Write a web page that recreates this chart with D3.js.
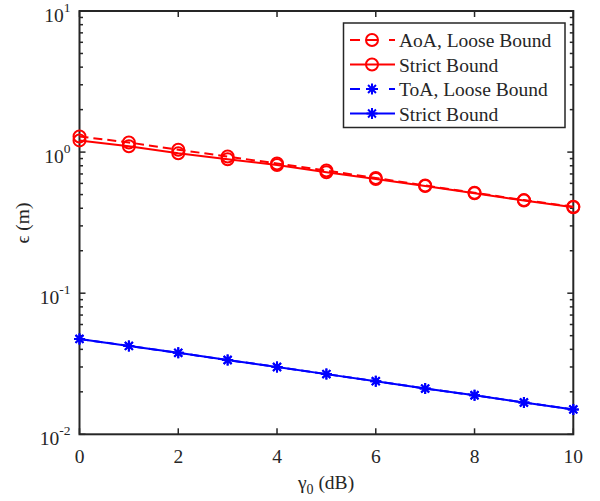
<!DOCTYPE html>
<html>
<head>
<meta charset="utf-8">
<script src="https://cdn.jsdelivr.net/npm/d3@7"></script>
<style>
  html, body { margin: 0; padding: 0; background: #fff; }
  svg { display: block; }
  text { font-family: "Liberation Serif", "Times New Roman", serif; fill: #262626; }
</style>
</head>
<body>
<svg id="chart" width="600" height="501"></svg>
<script>
// SNR values (dB)
const gamma0 = [0, 1, 2, 3, 4, 5, 6, 7, 8, 9, 10];
// Localization error bounds (m)
const aoaLoose  = [1.29, 1.17, 1.04, 0.93, 0.83, 0.74, 0.655, 0.58, 0.515, 0.457, 0.41];
const aoaStrict = [1.21, 1.10, 0.98, 0.89, 0.81, 0.72, 0.645, 0.575, 0.51, 0.454, 0.407];
const toaLoose  = [0.0474, 0.0423, 0.0378, 0.0336, 0.0300, 0.0267, 0.0238, 0.0211, 0.0189, 0.0168, 0.0150];
const toaStrict = [0.0474, 0.0423, 0.0378, 0.0336, 0.0300, 0.0267, 0.0238, 0.0211, 0.0189, 0.0168, 0.0150];
const xTicks = [0, 2, 4, 6, 8, 10];
const yDecades = [-2, -1, 0, 1];
const legendLabels = ["AoA, Loose Bound", "Strict Bound", "ToA, Loose Bound", "Strict Bound"];

const series = [
  { values: aoaLoose,  color: "#ff0000", dash: "9,5", marker: "circle", label: legendLabels[0] },
  { values: aoaStrict, color: "#ff0000", dash: null,  marker: "circle", label: legendLabels[1] },
  { values: toaLoose,  color: "#0000ff", dash: "9,5", marker: "star",   label: legendLabels[2] },
  { values: toaStrict, color: "#0000ff", dash: null,  marker: "star",   label: legendLabels[3] }
];

const svg = d3.select("#chart");
const L = 79.5, R = 573.3, T = 11, B = 434.3;
const axisColor = "#262626";
const fs = 19.5;

const x = d3.scaleLinear().domain([0, 10]).range([L, R]);
const y = d3.scaleLog().domain([0.01, 10]).range([B, T]);

// Axis box
svg.append("rect")
  .attr("x", L).attr("y", T).attr("width", R - L).attr("height", B - T)
  .attr("fill", "none").attr("stroke", axisColor).attr("stroke-width", 2);

// X ticks (bottom and top, inward)
const g = svg.append("g");
xTicks.forEach(v => {
  const px = x(v);
  g.append("line").attr("x1", px).attr("x2", px).attr("y1", B).attr("y2", B - 6)
    .attr("stroke", axisColor).attr("stroke-width", 1.5);
  g.append("line").attr("x1", px).attr("x2", px).attr("y1", T).attr("y2", T + 6)
    .attr("stroke", axisColor).attr("stroke-width", 1.5);
  g.append("text").attr("x", px).attr("y", B + 29)
    .attr("text-anchor", "middle").attr("font-size", fs).text(v);
});

// Y ticks: decades and minor ticks
yDecades.forEach(d => {
  const py = y(Math.pow(10, d));
  g.append("line").attr("x1", L).attr("x2", L + 6).attr("y1", py).attr("y2", py)
    .attr("stroke", axisColor).attr("stroke-width", 1.5);
  g.append("line").attr("x1", R).attr("x2", R - 6).attr("y1", py).attr("y2", py)
    .attr("stroke", axisColor).attr("stroke-width", 1.5);
  const t = g.append("text").attr("x", L - 9).attr("y", py + 11)
    .attr("text-anchor", "end").attr("font-size", fs);
  t.append("tspan").text("10");
  t.append("tspan").attr("dy", -10).attr("font-size", 13.5).text(d);
  if (d < 1) {
    for (let m = 2; m <= 9; m++) {
      const my = y(m * Math.pow(10, d));
      g.append("line").attr("x1", L).attr("x2", L + 3.5).attr("y1", my).attr("y2", my)
        .attr("stroke", axisColor).attr("stroke-width", 1.5);
      g.append("line").attr("x1", R).attr("x2", R - 3.5).attr("y1", my).attr("y2", my)
        .attr("stroke", axisColor).attr("stroke-width", 1.5);
    }
  }
});

// Axis labels
const xl = svg.append("text").attr("x", 326).attr("y", 489)
  .attr("text-anchor", "middle").attr("font-size", fs);
xl.append("tspan").text("γ");
xl.append("tspan").attr("dy", 5).attr("font-size", 14).text("0");
xl.append("tspan").attr("dy", -5).text(" (dB)");

svg.append("text")
  .attr("transform", "translate(29,223) rotate(-90)")
  .attr("text-anchor", "middle").attr("font-size", fs)
  .text("ϵ (m)");

// Marker drawing
function drawMarker(sel, type, color) {
  if (type === "circle") {
    sel.append("circle").attr("r", 6).attr("fill", "none")
      .attr("stroke", color).attr("stroke-width", 2);
  } else {
    const s = 5.5, d = s * 0.72;
    const p = `M${-s},0L${s},0M0,${-s}L0,${s}M${-d},${-d}L${d},${d}M${-d},${d}L${d},${-d}`;
    sel.append("path").attr("d", p).attr("fill", "none")
      .attr("stroke", color).attr("stroke-width", 2);
  }
}

// Series lines and markers
const line = d3.line().x((d, i) => x(gamma0[i])).y(d => y(d));
series.forEach(s => {
  svg.append("path").datum(s.values).attr("d", line)
    .attr("fill", "none").attr("stroke", s.color).attr("stroke-width", 2)
    .attr("stroke-dasharray", s.dash);
  s.values.forEach((v, i) => {
    const m = svg.append("g").attr("transform", `translate(${x(gamma0[i])},${y(v)})`);
    drawMarker(m, s.marker, s.color);
  });
});

// Legend
const lg = svg.append("g");
lg.append("rect").attr("x", 343.5).attr("y", 23).attr("width", 221.5).attr("height", 104.5)
  .attr("fill", "#fff").attr("stroke", axisColor).attr("stroke-width", 1.5);
series.forEach((s, i) => {
  const cy = 40 + i * 24.5;
  lg.append("line").attr("x1", 350).attr("x2", 395).attr("y1", cy).attr("y2", cy)
    .attr("stroke", s.color).attr("stroke-width", 2)
    .attr("stroke-dasharray", s.dash ? "10,6,12,11,6" : null);
  const m = lg.append("g").attr("transform", `translate(372,${cy})`);
  drawMarker(m, s.marker, s.color);
  lg.append("text").attr("x", 399).attr("y", cy + 7).attr("font-size", fs).text(s.label);
});
</script>
</body>
</html>
